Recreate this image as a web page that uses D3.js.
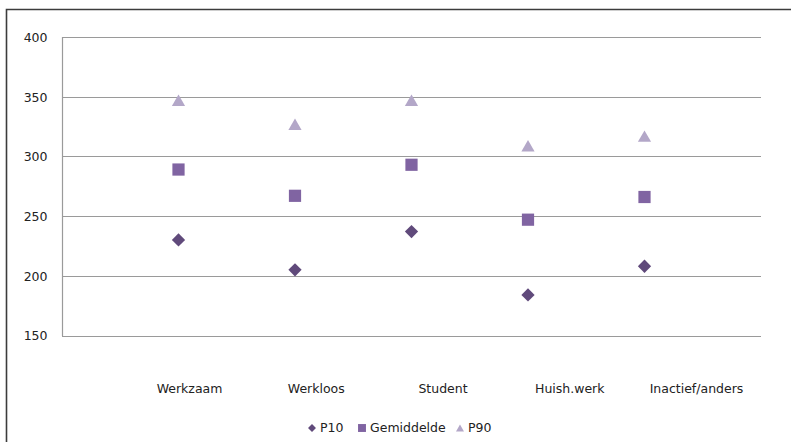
<!DOCTYPE html>
<html>
<head>
<meta charset="utf-8">
<script src="https://cdn.jsdelivr.net/npm/d3@7"></script>
<style>
  html, body { margin: 0; padding: 0; background: #ffffff; }
  svg { display: block; }
  text { font-family: "DejaVu Sans", Verdana, sans-serif; fill: #222; }
</style>
</head>
<body>
<svg id="chart" width="791" height="442"></svg>
<script>
// Categories and series values
const categories = ["Werkzaam", "Werkloos", "Student", "Huish.werk", "Inactief/anders"];
const p10 = [230, 205, 237, 184, 208];
const gemiddelde = [289, 267, 293, 247, 266];
const p90 = [347, 327, 347, 309, 317];
const yTicks = [150, 200, 250, 300, 350, 400];

// Triangles are shifted so their bounding box (not centroid) sits on the value
function triOffset(size) {
  const s = Math.sqrt(size) * 0.6824;
  return s / 4;
}

const series = [
  { name: "P10", values: p10, symbol: d3.symbolDiamond2, color: "#604a7b", size: 112, legendSize: 40, dy: 0 },
  { name: "Gemiddelde", values: gemiddelde, symbol: d3.symbolSquare2, color: "#8064a2", size: 190, legendSize: 80, dy: 0 },
  { name: "P90", values: p90, symbol: d3.symbolTriangle2, color: "#b3a7c8", size: 125, legendSize: 46, dy: triOffset(125) }
];

const svg = d3.select("#chart");
const plot = { left: 62, right: 761, top: 37, bottom: 335.5 };

// Outer frame: top and left edges
svg.append("path")
  .attr("d", `M6.5,442 V9.5 H791`)
  .attr("fill", "none").attr("stroke", "#3c3c3c").attr("stroke-width", 1.6);

const y = d3.scaleLinear().domain([150, 400]).range([plot.bottom, plot.top]);

// Markers sit on the inner divisions of the plot width; labels below on their own spacing
const step = (plot.right - plot.left) / 6;
const xMark = d3.scalePoint().domain(categories).range([plot.left + step, plot.left + 5 * step]);
const xLabel = d3.scalePoint().domain(categories).range([189, 696]);

// Gridlines
svg.append("g").selectAll("line").data(yTicks).join("line")
  .attr("x1", plot.left).attr("x2", plot.right)
  .attr("y1", d => Math.round(y(d)) + 0.5).attr("y2", d => Math.round(y(d)) + 0.5)
  .attr("stroke", "#9a9a9a").attr("stroke-width", 1.2);

// Vertical value axis line
svg.append("line")
  .attr("x1", plot.left + 0.5).attr("x2", plot.left + 0.5)
  .attr("y1", plot.top).attr("y2", plot.bottom + 0.5)
  .attr("stroke", "#9a9a9a").attr("stroke-width", 1.2);

// Value axis labels
const yAxis = d3.axisLeft(y).tickValues(yTicks).tickSize(0).tickPadding(0);
const gy = svg.append("g").attr("transform", `translate(${47.5},0)`).call(yAxis);
gy.select(".domain").remove();
gy.selectAll("text").attr("font-size", 12.5).attr("fill", "#222")
  .attr("font-family", "DejaVu Sans, sans-serif").attr("dy", "0.35em");

// Category labels
const xAxis = d3.axisBottom(xLabel).tickSize(0).tickPadding(0);
const gx = svg.append("g").attr("transform", `translate(0,${384})`).call(xAxis);
gx.select(".domain").remove();
gx.selectAll("text").attr("font-size", 12.5).attr("fill", "#222")
  .attr("font-family", "DejaVu Sans, sans-serif");

// Series markers
series.forEach(s => {
  svg.append("g").selectAll("path").data(s.values).join("path")
    .attr("transform", (d, i) => `translate(${xMark(categories[i])},${y(d) + s.dy})`)
    .attr("d", d3.symbol().type(s.symbol).size(s.size)())
    .attr("fill", s.color);
});

// Legend
const legendX = d3.scaleOrdinal().domain(series.map(s => s.name)).range([312, 362, 460]);
const lg = svg.append("g").attr("transform", "translate(0,428)");
series.forEach(s => {
  const cx = legendX(s.name);
  lg.append("path")
    .attr("transform", `translate(${cx},${s.symbol === d3.symbolTriangle2 ? triOffset(s.legendSize) : 0})`)
    .attr("d", d3.symbol().type(s.symbol).size(s.legendSize)())
    .attr("fill", s.color);
  lg.append("text")
    .attr("x", cx + 8).attr("y", 0).attr("dy", "0.35em")
    .attr("font-size", 12.5).text(s.name);
});
</script>
</body>
</html>
